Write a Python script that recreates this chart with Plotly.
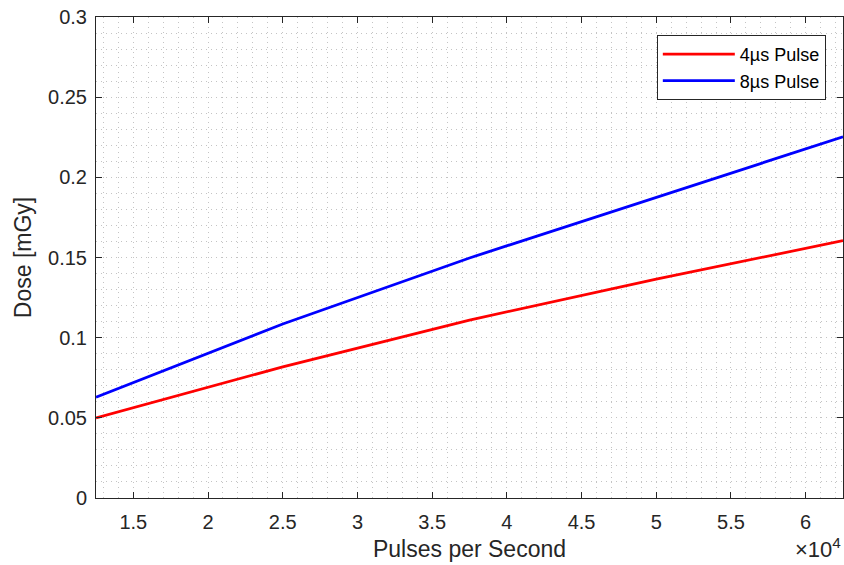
import plotly.graph_objects as go

pulses_per_second = [12500, 25000, 37500, 50000, 62500]
dose_4us = [0.0500, 0.0818, 0.1110, 0.1365, 0.1605]
dose_8us = [0.0628, 0.1085, 0.1497, 0.1875, 0.2253]
series_names = ["4\u00b5s Pulse", "8\u00b5s Pulse"]
x_tickvals = [15000, 20000, 25000, 30000, 35000, 40000, 45000, 50000, 55000, 60000]
x_ticktext = ["1.5", "2", "2.5", "3", "3.5", "4", "4.5", "5", "5.5", "6"]
y_tickvals = [0, 0.05, 0.1, 0.15, 0.2, 0.25, 0.3]
y_ticktext = ["0", "0.05", "0.1", "0.15", "0.2", "0.25", "0.3"]

FONT = "Liberation Sans, Arial, Helvetica, sans-serif"
AX = "#262626"
GRID = "#c4c4c4"
DOT = "1px,4px"

fig = go.Figure()
fig.add_trace(go.Scatter(x=pulses_per_second, y=dose_4us, mode="lines",
                         name=series_names[0], line=dict(color="#ff0000", width=2.8)))
fig.add_trace(go.Scatter(x=pulses_per_second, y=dose_8us, mode="lines",
                         name=series_names[1], line=dict(color="#0000ff", width=2.8)))

fig.update_layout(
    width=844, height=565,
    margin=dict(l=96, r=1, t=17, b=67),
    paper_bgcolor="white", plot_bgcolor="white",
    font=dict(family=FONT, color=AX),
    legend=dict(x=0.977, y=0.9626, xanchor="right", yanchor="top",
                bgcolor="white", bordercolor=AX, borderwidth=1,
                font=dict(size=18, family=FONT, color="black"),
                itemwidth=72, tracegroupgap=0),
    xaxis=dict(range=[12500, 62500], tickvals=x_tickvals, ticktext=x_ticktext,
               showline=True, linecolor=AX, linewidth=1, mirror="allticks",
               ticks="inside", ticklen=6, tickcolor=AX, tickwidth=1,
               tickfont=dict(size=20, family=FONT, color=AX),
               ticklabelstandoff=6,
               showgrid=True, gridcolor=GRID, griddash=DOT, gridwidth=1,
               minor=dict(dtick=1000, tick0=0, showgrid=True, gridcolor=GRID,
                          griddash=DOT, gridwidth=1, ticks=""),
               zeroline=False,
               title=dict(text="Pulses per Second", font=dict(size=23, family=FONT, color=AX),
                          standoff=8)),
    yaxis=dict(range=[0, 0.3], tickvals=y_tickvals, ticktext=y_ticktext,
               showline=True, linecolor=AX, linewidth=1, mirror="allticks",
               ticks="inside", ticklen=6, tickcolor=AX, tickwidth=1,
               tickfont=dict(size=20, family=FONT, color=AX),
               ticklabelstandoff=4,
               showgrid=True, gridcolor=GRID, griddash=DOT, gridwidth=1,
               minor=dict(dtick=0.01, tick0=0, showgrid=True, gridcolor=GRID,
                          griddash=DOT, gridwidth=1, ticks=""),
               zeroline=False,
               title=dict(text="Dose [mGy]", font=dict(size=23, family=FONT, color=AX),
                          standoff=10)),
    annotations=[dict(text="\u00d710<sup>4</sup>", xref="paper", yref="paper",
                      x=1.0, y=-0.138, xanchor="right", yanchor="bottom",
                      showarrow=False, font=dict(size=22, family=FONT, color=AX))],
)

fig.write_html("out.html")
